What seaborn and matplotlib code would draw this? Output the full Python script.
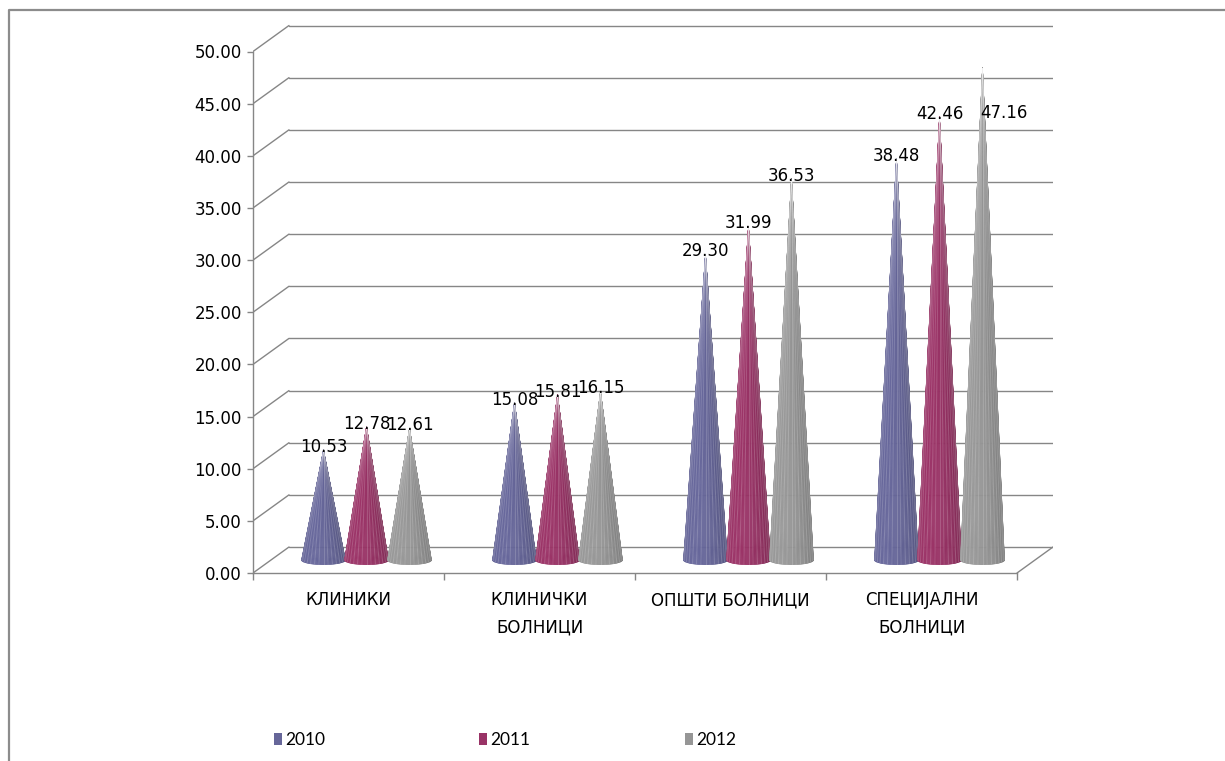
import numpy as np
import matplotlib
matplotlib.use("Agg")
import matplotlib.pyplot as plt
from matplotlib.patches import Patch
from matplotlib.lines import Line2D
from matplotlib.collections import PolyCollection, LineCollection
from matplotlib import font_manager
import seaborn as sns

# ---- data -------------------------------------------------------------
categories = ["КЛИНИКИ", "КЛИНИЧКИ\nБОЛНИЦИ", "ОПШТИ БОЛНИЦИ", "СПЕЦИЈАЛНИ\nБОЛНИЦИ"]
years = ["2010", "2011", "2012"]
values_2010 = [10.53, 15.08, 29.30, 38.48]
values_2011 = [12.78, 15.81, 31.99, 42.46]
values_2012 = [12.61, 16.15, 36.53, 47.16]
y_ticks = [0, 5, 10, 15, 20, 25, 30, 35, 40, 45, 50]
series = [values_2010, values_2011, values_2012]

# ---- style ------------------------------------------------------------
sns.set_theme(style="ticks")
plt.rcParams["font.family"] = ["DejaVu Sans"]
plt.rcParams["text.color"] = "black"
palette = sns.color_palette(["#666699", "#993366", "#969696"])
GRID = "#868686"

installed = {f.name for f in font_manager.fontManager.ttflist}
legend_family = next((f for f in ["Liberation Sans Narrow", "DejaVu Sans Condensed", "Lato",
                                  "DejaVu Sans"] if f in installed), "DejaVu Sans")

W, H = 1225, 761
fig = plt.figure(figsize=(W / 100, H / 100), dpi=100)

# chart-area frame (left and top edges)
fig.add_artist(Line2D([8.5 / W, 8.5 / W, 1.01], [-0.01, 1 - 10 / H, 1 - 10 / H],
                      transform=fig.transFigure, color="#8c8c8c", lw=1.6))

# ---- plot area with pseudo-3D depth --------------------------------------
PX_CAT = 191.0          # pixels per category
PX_VAL = 10.43          # pixels per value unit
DX = 36 / PX_CAT        # depth offset in category units
DY = 26 / PX_VAL        # depth offset in value units
x0_px, y0_px = 253, 573
ax_w_px, ax_h_px = 800, 553
ax = fig.add_axes([x0_px / W, (H - y0_px) / H, ax_w_px / W, ax_h_px / H])
ax.set_xlim(0, ax_w_px / PX_CAT)
ax.set_ylim(0, ax_h_px / PX_VAL)
ax.patch.set_alpha(0)

n_cat = len(categories)
# back wall gridlines and their connectors to the front axis
for v in y_ticks:
    ax.plot([DX, n_cat + DX], [v + DY, v + DY], color=GRID, lw=1.0, zorder=1)
    ax.plot([0, DX], [v, v + DY], color=GRID, lw=1.0, zorder=1)
# floor right edge
ax.plot([n_cat, n_cat + DX], [0, DY], color=GRID, lw=1.0, zorder=1)

sns.despine(ax=ax)
for side in ("left", "bottom"):
    ax.spines[side].set_color(GRID)
    ax.spines[side].set_linewidth(1.0)
ax.spines["left"].set_bounds(0, y_ticks[-1])
ax.spines["bottom"].set_bounds(0, n_cat)

ax.set_yticks(y_ticks)
ax.set_yticklabels([f"{v:.2f}" for v in y_ticks])
ax.tick_params(axis="y", direction="out", length=4.5, width=1.0, color=GRID,
               pad=3.6, labelsize=12, labelcolor="black")
ax.set_xticks(range(n_cat + 1))
ax.set_xticklabels([""] * (n_cat + 1))
ax.tick_params(axis="x", which="major", direction="out", length=5, width=1.0, color=GRID)
ax.set_xticks([i + 0.5 for i in range(n_cat)], minor=True)
ax.set_xticklabels(categories, minor=True, fontsize=12, linespacing=1.65)
ax.tick_params(axis="x", which="minor", length=0, pad=13, labelcolor="black")

# ---- cones ----------------------------------------------------------------
SP = 43 / PX_CAT         # spacing between cones in a group
R = 22 / PX_CAT          # base radius (x units)
E = 0.45                 # base ellipse semi-minor (value units)
BY = DY / 2              # cones stand at mid depth
theta = np.linspace(np.pi, 2 * np.pi, 61)


def shade(rgb, t):
    f = 0.89 + 0.13 * np.cos(t - 1.3 * np.pi)
    return tuple(np.clip(np.array(rgb) * f, 0, 1))


for j, vals in enumerate(series):
    for i, v in enumerate(vals):
        cx = i + 0.5 + (j - 1) * SP + DX / 2
        apex = (cx, BY + v)
        bx = cx + R * np.cos(theta)
        byy = BY + E * np.sin(theta)
        polys, cols = [], []
        for k in range(len(theta) - 1):
            polys.append([apex, (bx[k], byy[k]), (bx[k + 1], byy[k + 1])])
            cols.append(shade(palette[j], 0.5 * (theta[k] + theta[k + 1])))
        ax.add_collection(PolyCollection(polys, facecolors=cols, edgecolors=cols,
                                         linewidths=0.4, zorder=3 + j))
        # fine light streaks on the surface
        streaks = [[apex, (bx[k], byy[k])] for k in range(2, len(theta) - 2, 4)]
        ax.add_collection(LineCollection(streaks, colors="white", alpha=0.17,
                                         linewidths=0.7, zorder=3 + j))
        top = BY + v
        if top > y_ticks[-1] - 3:
            ax.text(cx - 0.01, top - 4.35, f"{v:.2f}", ha="left", va="center",
                    fontsize=12, color="black", zorder=10)
        else:
            ax.text(cx, top + 0.3, f"{v:.2f}", ha="center", va="center",
                    fontsize=12, color="black", zorder=10)

# ---- legend ---------------------------------------------------------------
handles = [Patch(facecolor=c, edgecolor="none") for c in palette]
fig.legend(handles, years, loc="center left", bbox_to_anchor=(274 / W, 1 - 740 / H),
           ncol=3, frameon=False, handlelength=0.46, handleheight=0.75,
           handletextpad=0.17, columnspacing=8.9, borderpad=0, borderaxespad=0,
           labelcolor="black", prop={"family": legend_family, "size": 12.5})

fig.savefig("out.png", dpi=100)
